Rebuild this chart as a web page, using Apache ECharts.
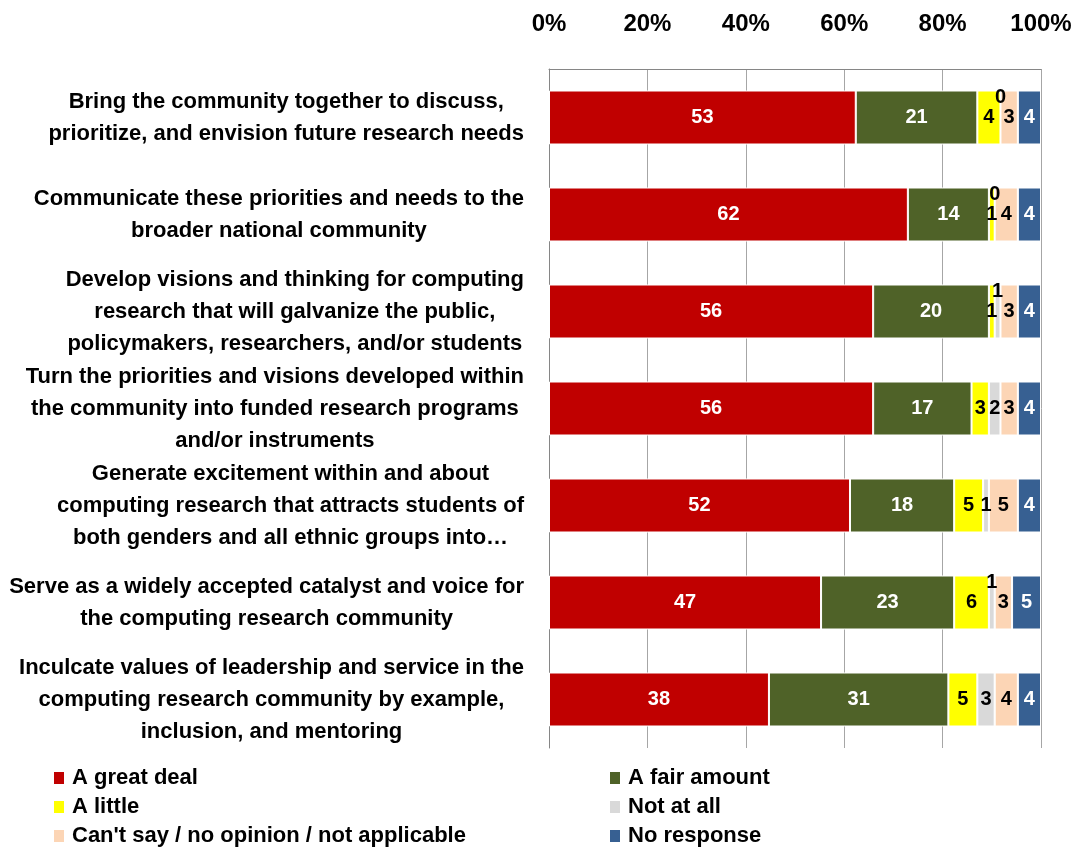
<!DOCTYPE html>
<html>
<head>
<meta charset="utf-8">
<script src="https://cdn.jsdelivr.net/npm/echarts@6/dist/echarts.min.js"></script>
<style>
html,body{margin:0;padding:0;background:#fff;}
#chart{width:1081px;height:848px;}
</style>
</head>
<body>
<div id="chart"></div>
<script>
// ---- data ----
const categories = [
  "Bring the community together to discuss,\nprioritize, and envision future research needs",
  "Communicate these priorities and needs to the\nbroader national community",
  "Develop visions and thinking for computing\nresearch that will galvanize the public,\npolicymakers, researchers, and/or students",
  "Turn the priorities and visions developed within\nthe community into funded research programs\nand/or instruments",
  "Generate excitement within and about\ncomputing research that attracts students of\nboth genders and all ethnic groups into…",
  "Serve as a widely accepted catalyst and voice for\nthe computing research community",
  "Inculcate values of leadership and service in the\ncomputing research community by example,\ninclusion, and mentoring"
];
const seriesNames = ["A great deal", "A fair amount", "A little", "Not at all", "Can't say / no opinion / not applicable", "No response"];
const greatDeal  = [53, 62, 56, 56, 52, 47, 38];
const fairAmount = [21, 14, 20, 17, 18, 23, 31];
const aLittle    = [4, 1, 1, 3, 5, 6, 5];
const notAtAll   = [0, 0, 1, 2, 1, 1, 3];
const cantSay    = [3, 4, 3, 3, 5, 3, 4];
const noResponse = [4, 4, 4, 4, 4, 5, 4];
const respondents = 85; // every bar sums to this = 100%
const xTickLabels = ["0%", "20%", "40%", "60%", "80%", "100%"];

// ---- styling ----
const FONT = '"Liberation Sans", Arial, sans-serif';
const colors = ["#C00000", "#4F6228", "#FFFF00", "#D9D9D9", "#FCD5B5", "#376092"];
const labelColors = ["#fff", "#fff", "#000", "#000", "#000", "#fff"];
const raisedNotAtAll = [0, 1, 2, 5]; // Excel moved these small labels above the bar

const values = [greatDeal, fairAmount, aLittle, notAtAll, cantSay, noResponse];

const chart = echarts.init(document.getElementById('chart'), null, {renderer: 'canvas'});

const series = values.map((vals, i) => ({
  name: seriesNames[i],
  type: 'bar',
  stack: 'total',
  barWidth: 54,
  data: vals,
  itemStyle: {color: colors[i], borderColor: '#fff', borderWidth: 1},
  label: {
    show: true,
    position: 'inside',
    color: labelColors[i],
    fontFamily: FONT,
    fontWeight: 'bold',
    fontSize: 20,
    textBorderWidth: 0
  },
  emphasis: {disabled: true},
  labelLayout: i === 3 ? function (p) {
    if (raisedNotAtAll.indexOf(p.dataIndex) >= 0) return {dy: -20};
    return {};
  } : undefined
}));

const legendBase = {
  orient: 'vertical',
  top: 767,
  height: 81,
  padding: 0,
  itemWidth: 12,
  itemHeight: 14,
  itemGap: 7,
  icon: 'rect',
  selectedMode: false,
  textStyle: {color: '#000', fontFamily: FONT, fontWeight: 'bold', fontSize: 22, lineHeight: 22, padding: [0, 0, 0, 2]}
};

const option = {
  animation: false,
  backgroundColor: '#fff',
  grid: {left: 549, right: 40, top: 69, bottom: 100, containLabel: false},
  xAxis: {
    type: 'value',
    position: 'top',
    min: 0,
    max: respondents,
    interval: respondents / 5,
    axisLine: {show: true, lineStyle: {color: '#868686', width: 1}},
    axisTick: {show: false},
    splitLine: {show: true, lineStyle: {color: '#A6A6A6', width: 1}},
    axisLabel: {
      margin: 33,
      color: '#000',
      fontFamily: FONT,
      fontWeight: 'bold',
      fontSize: 24,
      formatter: function (v) {
        const idx = Math.round(v / (respondents / 5));
        return xTickLabels[idx] || '';
      }
    }
  },
  yAxis: {
    type: 'category',
    inverse: true,
    data: categories,
    axisLine: {show: true, lineStyle: {color: '#868686'}},
    axisTick: {show: false},
    axisLabel: {
      margin: 25,
      interval: 0,
      formatter: function (v) {
        return v.split('\n').map(l => '{c|' + l + '}').join('\n');
      },
      rich: {
        c: {
          align: 'center',
          color: '#000',
          fontFamily: FONT,
          fontWeight: 'bold',
          fontSize: 22,
          lineHeight: 32
        }
      }
    }
  },
  legend: [
    Object.assign({}, legendBase, {left: 52, data: [seriesNames[0], seriesNames[2], seriesNames[4]]}),
    Object.assign({}, legendBase, {left: 608, data: [seriesNames[1], seriesNames[3], seriesNames[5]]})
  ],
  series: series
};
chart.setOption(option);
</script>
</body>
</html>
